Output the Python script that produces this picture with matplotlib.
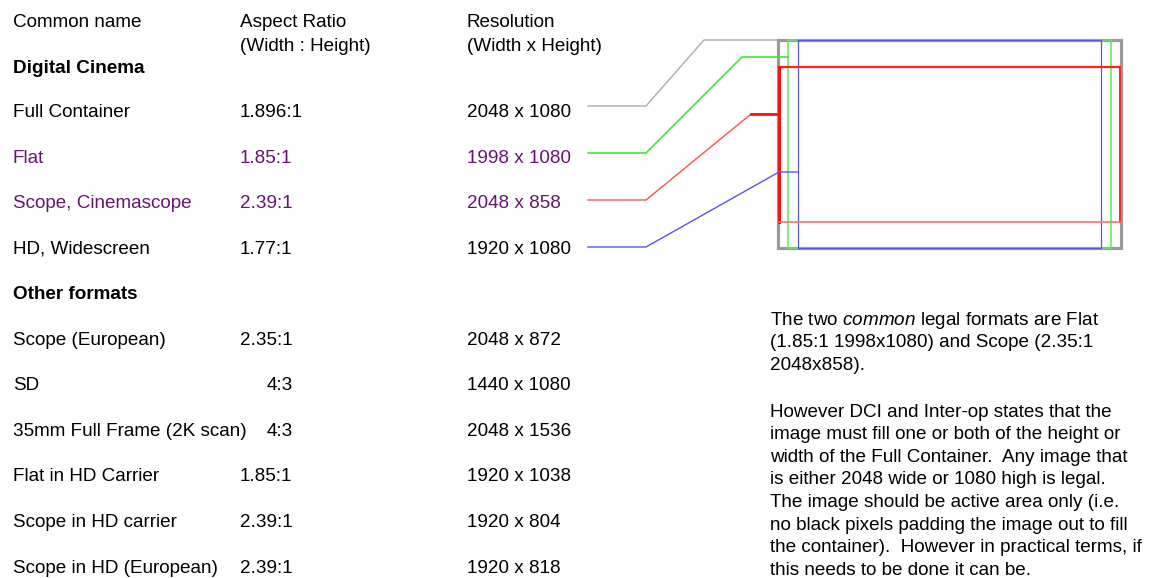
import matplotlib
matplotlib.use("Agg")
import matplotlib.pyplot as plt

plt.rcParams['font.family'] = ['Liberation Sans', 'DejaVu Sans']
plt.rcParams['mathtext.fontset'] = 'custom'
plt.rcParams['mathtext.rm'] = 'Liberation Sans'
plt.rcParams['mathtext.it'] = 'Liberation Sans:italic'

# --- table data ---
headers = ["Common name", "Aspect Ratio\n(Width : Height)", "Resolution\n(Width x Height)"]

cinema_names = ["Full Container", "Flat", "Scope, Cinemascope", "HD, Widescreen"]
cinema_ratios = ["1.896:1", "1.85:1", "2.39:1", "1.77:1"]
cinema_res = ["2048 x 1080", "1998 x 1080", "2048 x 858", "1920 x 1080"]
cinema_purple = [False, True, True, False]

other_names = ["Scope (European)", "SD", "35mm Full Frame (2K scan)",
               "Flat in HD Carrier", "Scope in HD carrier", "Scope in HD (European)"]
other_ratios = ["2.35:1", "4:3", "4:3", "1.85:1", "2.39:1", "2.39:1"]
other_res = ["2048 x 872", "1440 x 1080", "2048 x 1536", "1920 x 1038", "1920 x 804", "1920 x 818"]

note_lines = [
    r"The two $\mathit{common}$ legal formats are Flat",
    "(1.85:1 1998x1080) and Scope (2.35:1",
    "2048x858).",
    "",
    "However DCI and Inter-op states that the",
    "image must fill one or both of the height or",
    "width of the Full Container.  Any image that",
    "is either 2048 wide or 1080 high is legal.",
    "The image should be active area only (i.e.",
    "no black pixels padding the image out to fill",
    "the container).  However in practical terms, if",
    "this needs to be done it can be.",
]

# container diagram (pixel rectangles: left, top, right, bottom)
gray_box = (778, 40, 1121, 248)
green_box = (788, 40, 1111, 248)
blue_box = (798, 40, 1101, 248)
red_box = (779, 67, 1120, 222)

PURPLE = '#661470'
FS = 13.6

fig = plt.figure(figsize=(11.61, 5.78), dpi=100)
ax = fig.add_axes([0, 0, 1, 1])
ax.set_xlim(0, 1161)
ax.set_ylim(578, 0)
ax.axis('off')

col_x = [13, 240, 467]


def put(x, y, s, **kw):
    # y is the visual centre of the capital letters
    ax.text(x, y + 6.8, s, fontsize=FS, va='baseline', **kw)


# headers
put(col_x[0], 20, headers[0])
for cx, h in zip(col_x[1:], headers[1:]):
    top, bottom = h.split("\n")
    put(cx, 20, top)
    put(cx, 44, bottom)

put(col_x[0], 66, "Digital Cinema", fontweight='bold')

cinema_y = [110, 156, 201, 247]
for y, n, r, res, p in zip(cinema_y, cinema_names, cinema_ratios, cinema_res, cinema_purple):
    c = PURPLE if p else 'black'
    put(col_x[0], y, n, color=c)
    put(col_x[1], y, r, color=c)
    put(col_x[2], y, res, color=c)

put(col_x[0], 292, "Other formats", fontweight='bold')

other_y = [338, 383, 429, 474, 520, 566]
for y, n, r, res in zip(other_y, other_names, other_ratios, other_res):
    put(col_x[0], y, n)
    if '.' in r:
        put(col_x[1], y, r)
    else:
        put(293, y, r, ha='right')
    put(col_x[2], y, res)

# explanatory note
ny = 318
for line in note_lines:
    if line:
        put(770, ny, line)
    ny += 22.6 if line else 24


def rect(box, color, lw):
    l, t, r, b = box
    ax.plot([l, r, r, l, l], [t, t, b, b, t], color=color, lw=lw, solid_joinstyle='miter')


# container rectangles
rect(gray_box, '#9a9a9a', 2.3)
rect(green_box, '#55ee55', 1.1)
rect(blue_box, '#5555dd', 0.9)
l, t, r, b = red_box
ax.plot([l, r], [t, t], color='#ff2020', lw=1.6)
ax.plot([l, l], [t, b], color='#ff1010', lw=2.2)
ax.plot([r, r], [t, b], color='#ff2020', lw=1.4)
ax.plot([l, r], [b, b], color='#ff7070', lw=1.2)

# connectors from each resolution to its frame
line_y = [106, 153, 200, 247]
targets = [(704, 40, gray_box[0]), (742, 57, green_box[0]),
           (751, 114, red_box[0]), (779, 172, blue_box[0])]
conn_colors = ['#aaaaaa', '#33ee33', '#ff5050', '#5555ee']
conn_lw = [1.0, 1.2, 1.0, 1.0]
for y, (tx, ty, ex), c, w in zip(line_y, targets, conn_colors, conn_lw):
    ax.plot([588, 646, tx, ex], [y, y, ty, ty], color=c, lw=w)
# thicker red stub into the frame
ax.plot([751, 779], [114, 114], color='#ff1010', lw=2.0)

fig.savefig('out.png', dpi=100)
